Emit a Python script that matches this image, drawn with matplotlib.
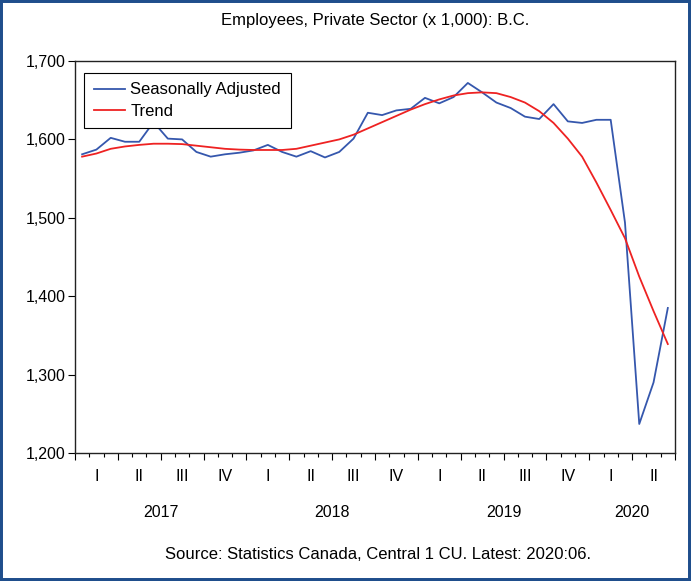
import matplotlib
matplotlib.use("Agg")
import matplotlib.pyplot as plt
from matplotlib.patches import Rectangle
from matplotlib.ticker import FuncFormatter, MultipleLocator
import matplotlib.transforms as mtransforms

plt.rcParams['font.family'] = ['Liberation Sans', 'DejaVu Sans']

# monthly, Jan 2017 .. Jun 2020
seas_adj = [1581, 1587, 1602, 1597, 1597, 1622, 1601, 1600, 1584, 1578, 1581, 1583,
            1586, 1593, 1584, 1578, 1585, 1577, 1584, 1601, 1634, 1631, 1637, 1639,
            1653, 1646, 1654, 1672, 1660, 1647, 1640, 1629, 1626, 1645, 1623, 1621,
            1625, 1625, 1494, 1237, 1290, 1385]
trend = [1578, 1582, 1588, 1591, 1593, 1594.5, 1594.5, 1594, 1592, 1590, 1588, 1587,
         1586.5, 1586.5, 1586.5, 1588, 1592, 1596, 1600, 1606, 1614, 1622, 1630, 1638,
         1645, 1651, 1656, 1659, 1660, 1659, 1654, 1647, 1636, 1621, 1601, 1578,
         1545, 1510, 1474, 1425, 1381, 1339]
quarter_labels = ['I', 'II', 'III', 'IV'] * 3 + ['I', 'II']
years = ['2017', '2018', '2019', '2020']
year_months = [12, 12, 12, 6]

x = [i + 0.5 for i in range(len(seas_adj))]

fig = plt.figure(figsize=(6.91, 5.81), dpi=100)
ax = fig.add_axes([0.1085, 0.2203, 0.8683, 0.6747])

ax.plot(x, seas_adj, color='#3557ad', lw=1.3, label='Seasonally Adjusted')
ax.plot(x, trend, color='#ee2222', lw=1.3, label='Trend')

ax.set_xlim(0, len(seas_adj))
ax.set_ylim(1200, 1700)
ax.yaxis.set_major_locator(MultipleLocator(100))
ax.yaxis.set_major_formatter(FuncFormatter(lambda v, p: f'{int(v):,}'))
ax.tick_params(axis='y', direction='out', length=5, width=0.8, labelsize=11.5, pad=2)

ax.xaxis.set_major_locator(MultipleLocator(3))
ax.xaxis.set_minor_locator(MultipleLocator(1))
ax.tick_params(axis='x', which='major', direction='out', length=5, width=0.8, labelbottom=False)
ax.tick_params(axis='x', which='minor', direction='out', length=3, width=0.8)

for s in ax.spines.values():
    s.set_linewidth(1.0)
    s.set_color('#222222')

trans = mtransforms.blended_transform_factory(ax.transData, ax.transAxes)
for q, lab in enumerate(quarter_labels):
    ax.text(q * 3 + 1.5, -0.06, lab, transform=trans, ha='center', va='center', fontsize=11.5)
start = 0
for yr, n in zip(years, year_months):
    ax.text(start + n / 2, -0.152, yr, transform=trans, ha='center', va='center', fontsize=11.5)
    start += n

leg = ax.legend(loc='upper left', bbox_to_anchor=(0.015, 0.97), borderaxespad=0,
                fancybox=False, edgecolor='black', framealpha=1, fontsize=12,
                handlelength=1.9, borderpad=0.58, labelspacing=0.38, handletextpad=0.3)
leg.get_frame().set_linewidth(0.8)

fig.text(0.5427, 0.965, 'Employees, Private Sector (x 1,000): B.C.', ha='center', va='center', fontsize=12)
fig.text(0.547, 0.045, 'Source: Statistics Canada, Central 1 CU. Latest: 2020:06.', ha='center', va='center', fontsize=12)

fig.patches.append(Rectangle((0, 0), 1, 1, transform=fig.transFigure, fill=False,
                             edgecolor='#1f4e8c', lw=4.3, zorder=10))

fig.savefig('out.png', dpi=100)
